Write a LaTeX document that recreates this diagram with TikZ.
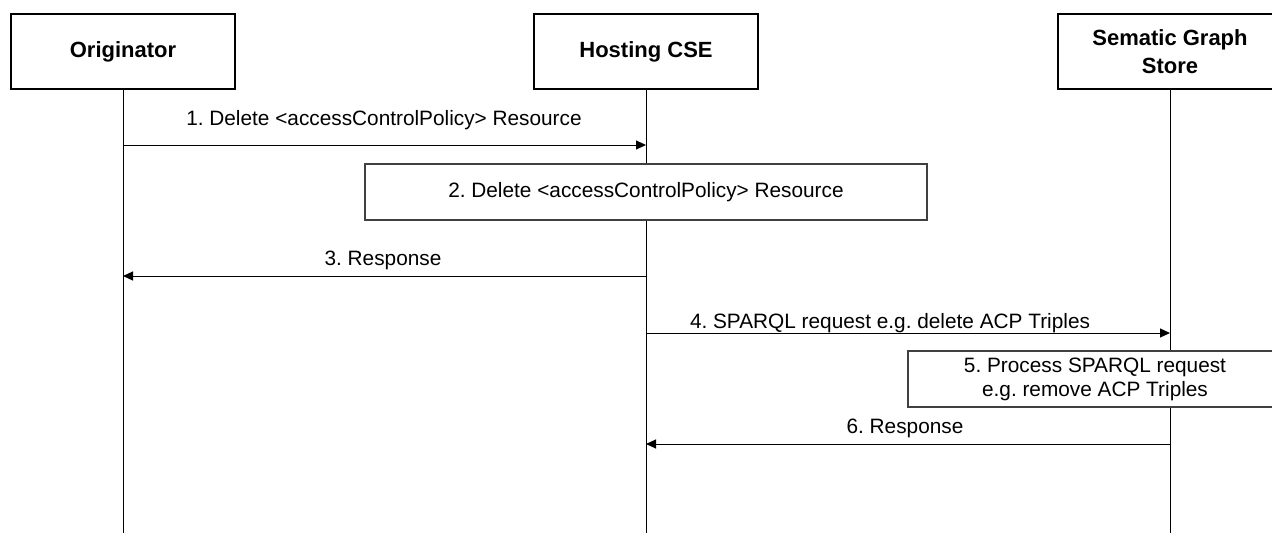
\documentclass[tikz,border=0pt]{standalone}
\usepackage{fontspec}
\setmainfont{Liberation Sans}
\usetikzlibrary{arrows.meta}
\frenchspacing
\begin{document}
\begin{tikzpicture}[x=1pt,y=1pt,
  head/.style={draw=black,line width=1.6pt,minimum width=224pt,minimum height=75pt,inner sep=0pt,align=center,font=\fontsize{22}{28}\selectfont\bfseries},
  proc/.style={draw=black!75,line width=1.4pt,inner sep=0pt,align=center,font=\fontsize{20.8}{24}\selectfont},
  life/.style={line width=1pt},
  msg/.style={line width=1pt,-{Triangle[length=10pt,width=9pt]}},
  lbl/.style={font=\fontsize{20.8}{24}\selectfont,anchor=base,inner sep=0pt}]
\useasboundingbox (0,0) rectangle (1272,-533);
\clip (0,0) rectangle (1272,-533);
% heads
\node[head] (orig) at (123,-51.5) {Originator};
\node[head] (cse) at (646,-51.5) {Hosting CSE};
\node[head] (sgs) at (1170,-51.5) {Sematic Graph\\Store};
% lifeline ends
\coordinate (origEnd) at (123,-533);
\coordinate (cseEnd) at (646,-533);
\coordinate (sgsEnd) at (1170,-533);
\draw[life] (orig.south) -- (origEnd);
\draw[life] (cse.south) -- (cseEnd);
\draw[life] (sgs.south) -- (sgsEnd);
% message points
\coordinate (o1) at (123,-145);
\coordinate (c1) at (646,-145);
\coordinate (c3) at (646,-276);
\coordinate (o3) at (123,-276);
\coordinate (c4) at (646,-333);
\coordinate (s4) at (1170,-333);
\coordinate (s6) at (1170,-444);
\coordinate (c6) at (646,-444);
% step boxes
\node[proc,minimum width=562pt,minimum height=56pt,fill=white] (p2) at (646,-192) {2. Delete <accessControlPolicy> Resource};
\node[proc,minimum width=374pt,minimum height=56pt,fill=white] (p5) at (1095,-379) {5. Process SPARQL request\\e.g. remove ACP Triples};
% messages
\draw[msg] (o1) -- (c1);
\node[lbl] (l1) at (384,-125) {1. Delete <accessControlPolicy> Resource};
\draw[msg] (c3) -- (o3);
\node[lbl] (l3) at (383,-265) {3. Response};
\draw[msg] (c4) -- (s4);
\node[lbl] (l4) at (890,-328) {4. SPARQL request e.g. delete ACP Triples};
\draw[msg] (s6) -- (c6);
\node[lbl] (l6) at (905,-433) {6. Response};
\end{tikzpicture}
\end{document}
